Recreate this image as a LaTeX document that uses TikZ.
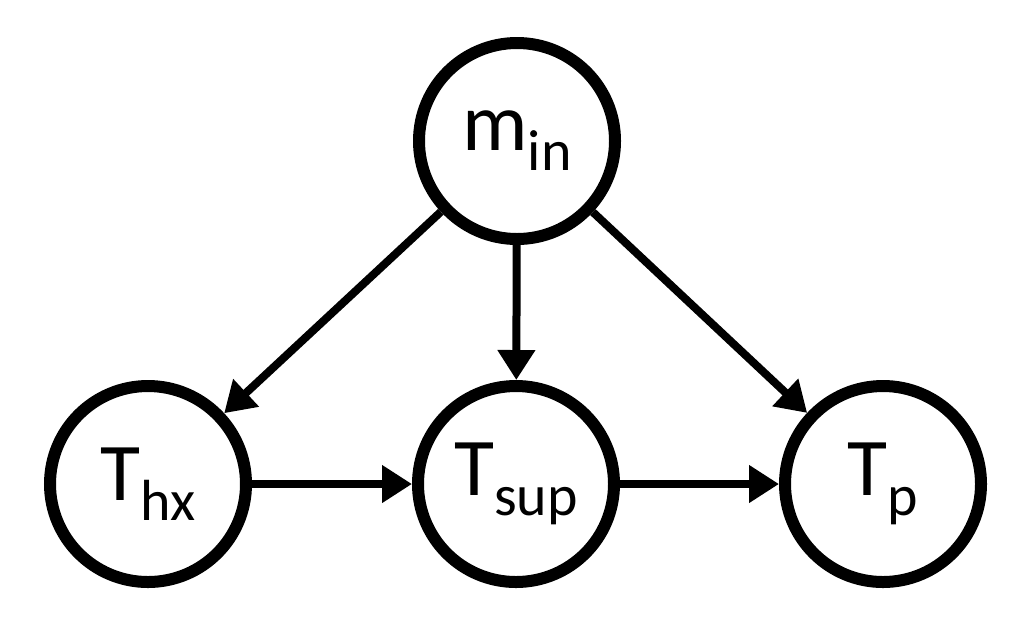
\documentclass[tikz,border=0pt]{standalone}
\usepackage{fontspec}
\setmainfont{Carlito}
\usetikzlibrary{arrows.meta}
\newcommand{\subtxt}[1]{\raisebox{-10pt}{\fontsize{29}{30}\selectfont #1}}
\begin{document}
\begin{tikzpicture}[x=0.5pt,y=-0.5pt,
  var/.style={circle,draw=black,line width=6pt,minimum size=98pt,inner sep=0pt,
    font=\fontsize{41}{44}\selectfont},
  link/.style={line width=4pt,-{Triangle[length=15pt,width=18pt]}}]
\useasboundingbox (0,0) rectangle (1026,617);
\node[var] (min) at (517,141) {m\subtxt{in}};
\node[var] (thx) at (148,484) {T\subtxt{hx}};
\node[var] (tsup) at (516,484) {T\subtxt{sup}};
\node[var] (tp) at (883,484) {T\subtxt{p}};
\draw[link] (min) -- (thx);
\draw[link] (min) -- (tsup);
\draw[link] (min) -- (tp);
\draw[link] (thx) -- (tsup);
\draw[link] (tsup) -- (tp);
\end{tikzpicture}
\end{document}
